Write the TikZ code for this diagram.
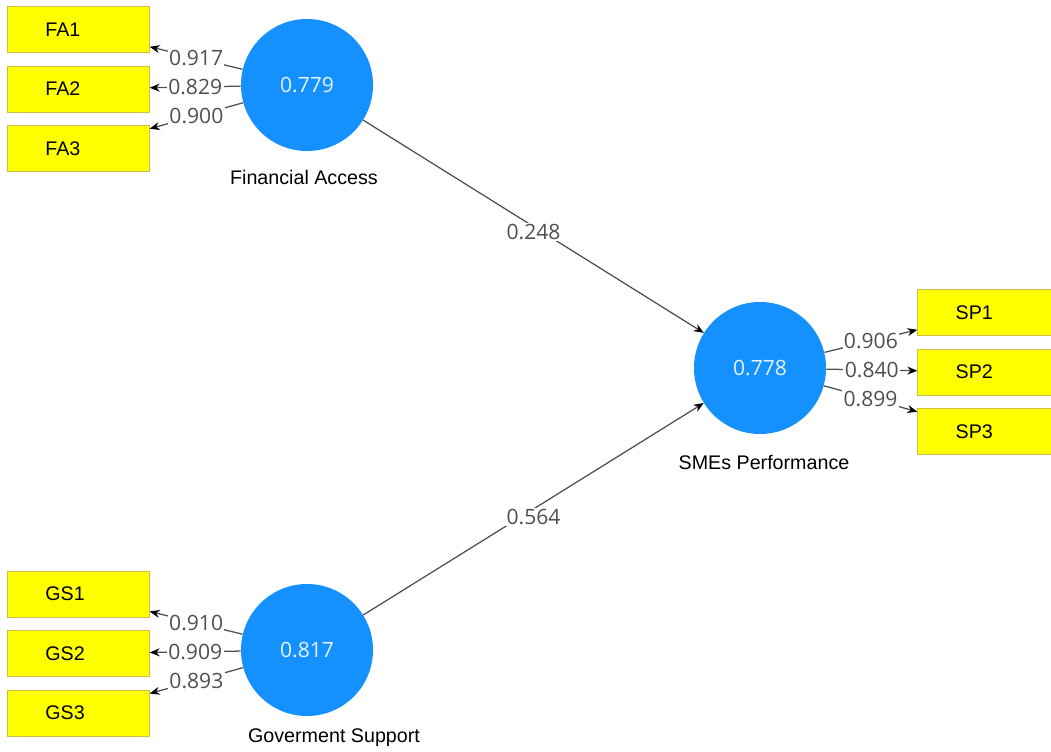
\documentclass[tikz,border=0pt]{standalone}
\usepackage{fontspec}
\setmainfont{Liberation Sans}
\newfontfamily\numfont{Open Sans}
\usetikzlibrary{positioning, arrows.meta}
\definecolor{lvblue}{RGB}{21,145,255}
\definecolor{lvtext}{RGB}{228,242,255}
\definecolor{indyellow}{RGB}{255,255,0}
\definecolor{indborder}{RGB}{205,190,70}
\definecolor{linkgray}{RGB}{80,80,80}

\begin{document}
\begin{tikzpicture}[
      x=0.025cm, y=-0.025cm,
      >={Stealth[length=2.5mm, width=2mm, color=black]},
      latent/.style = {
        circle,
        fill=lvblue,
        minimum size=3.3cm,
        inner sep=0pt,
        text=lvtext,
        font=\numfont\fontsize{15}{18}\selectfont
      },
      indicator/.style = {
        draw=indborder,
        fill=indyellow,
        minimum width=3.55cm,
        minimum height=1.15cm,
        text width=1.65cm,
        inner xsep=0.95cm,
        align=left,
        font=\fontsize{14}{16}\selectfont
      },
      coef/.style = {fill=white, inner sep=1pt, text=linkgray,
        font=\numfont\fontsize{15}{18}\selectfont},
      lvname/.style = {inner sep=0pt, font=\fontsize{14}{17}\selectfont},
      link/.style = {draw=linkgray, line width=0.9pt}
    ]

    \useasboundingbox (0,0) rectangle (1051,751);
    \clip (0,0) rectangle (1051,751);

    % latent variables
    \node[latent] (fa) at (307,85)  {0.779};
    \node[latent] (gs) at (307,650) {0.817};
    \node[latent] (sp) at (760,368) {0.778};

    \node[lvname, below=0.475cm of fa, xshift=-0.075cm] (fa-name) {Financial Access};
    \node[lvname, below=0.3cm of gs, xshift=0.675cm]    (gs-name) {Goverment Support};
    \node[lvname, below=0.525cm of sp, xshift=0.1cm]    (sp-name) {SMEs Performance};

    % indicators
    \node[indicator, left=2.275cm of fa, yshift=-0.1cm] (fa2) {FA2};
    \node[indicator, above=0.325cm of fa2] (fa1) {FA1};
    \node[indicator, below=0.325cm of fa2] (fa3) {FA3};

    \node[indicator, left=2.275cm of gs, yshift=-0.09cm] (gs2) {GS2};
    \node[indicator, above=0.325cm of gs2] (gs1) {GS1};
    \node[indicator, below=0.325cm of gs2] (gs3) {GS3};

    \node[indicator, right=2.275cm of sp, yshift=-0.1cm] (sp2) {SP2};
    \node[indicator, above=0.325cm of sp2] (sp1) {SP1};
    \node[indicator, below=0.325cm of sp2] (sp3) {SP3};

    % outer loadings
    \foreach \i/\v in {1/0.917, 2/0.829, 3/0.900}
      \draw[link, ->] (fa) -- node[coef] {\v} (fa\i);
    \foreach \i/\v in {1/0.910, 2/0.909, 3/0.893}
      \draw[link, ->] (gs) -- node[coef] {\v} (gs\i);
    \foreach \i/\v in {1/0.906, 2/0.840, 3/0.899}
      \draw[link, ->] (sp) -- node[coef] {\v} (sp\i);

    % path coefficients
    \draw[link, ->] (fa) -- node[coef, yshift=-0.14cm] {0.248} (sp);
    \draw[link, ->] (gs) -- node[coef, yshift=-0.2cm] {0.564} (sp);

  \end{tikzpicture}
\end{document}
